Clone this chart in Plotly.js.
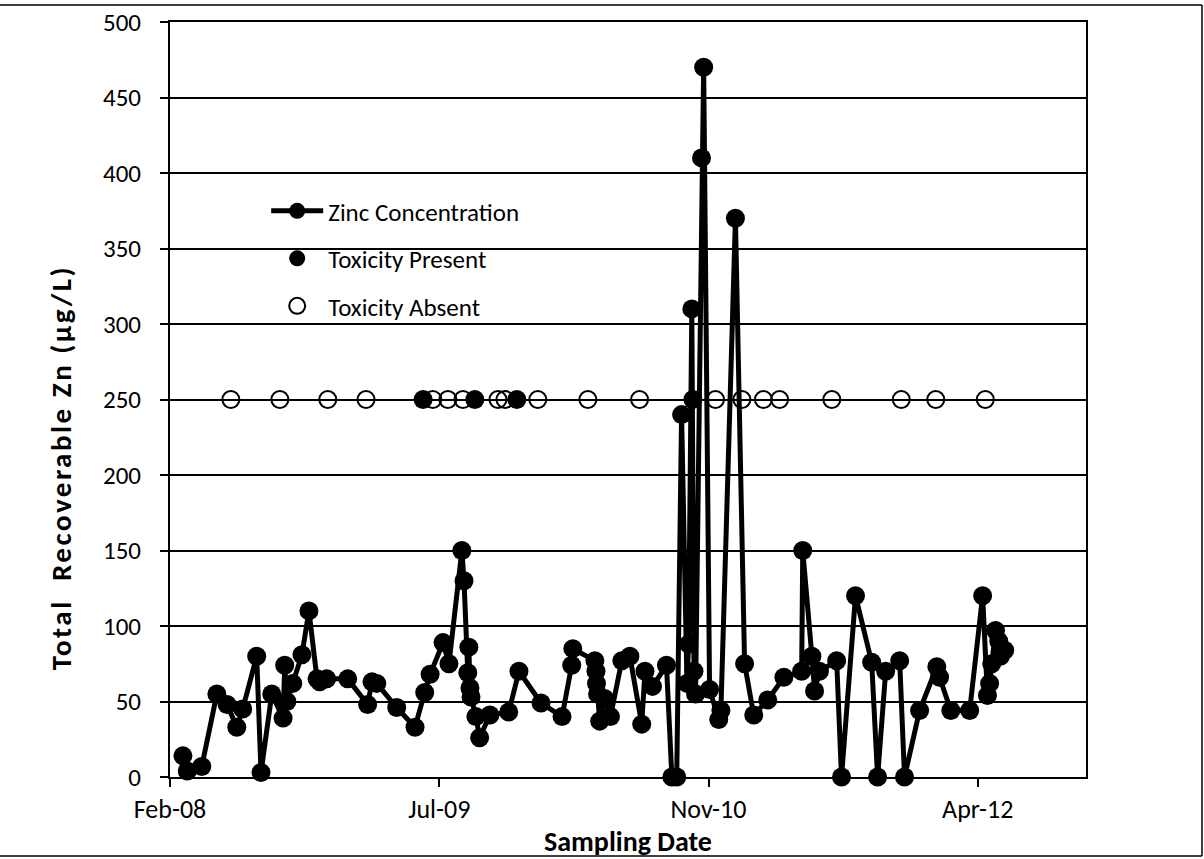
<!DOCTYPE html>
<html>
<head>
<meta charset="utf-8">
<script src="https://cdn.plot.ly/plotly-3.0.1.min.js"></script>
<style>
html,body{margin:0;padding:0;background:#fff;}
#chart{width:1204px;height:859px;}
g.annotation[data-index="0"] text{letter-spacing:2.5px;}
</style>
</head>
<body>
<div id="chart"></div>
<script>
// Zinc concentration series (sampling date, µg/L)
var zincDates = [
 '2008-03-17','2008-03-25','2008-04-21','2008-05-19','2008-06-07','2008-06-25','2008-07-06','2008-08-01','2008-08-09','2008-08-29',
 '2008-09-19','2008-09-22','2008-09-26','2008-10-07','2008-10-24','2008-11-06','2008-11-21','2008-11-26','2008-12-09','2009-01-17',
 '2009-02-23','2009-03-03','2009-03-12','2009-04-18','2009-05-22','2009-06-09','2009-06-19','2009-07-13','2009-07-24','2009-08-17',
 '2009-08-21','2009-08-28','2009-08-30','2009-09-01','2009-09-03','2009-09-12','2009-09-19','2009-10-08','2009-11-12','2009-12-01',
 '2010-01-11','2010-02-19','2010-03-09','2010-03-11','2010-04-21','2010-04-23','2010-04-24','2010-04-26','2010-04-30','2010-05-09',
 '2010-05-20','2010-06-10','2010-06-25','2010-07-17','2010-07-23','2010-08-06','2010-09-01','2010-09-11','2010-09-20','2010-09-29',
 '2010-10-09','2010-10-12','2010-10-18','2010-10-22','2010-10-25','2010-11-05','2010-11-09','2010-11-20','2010-12-07','2010-12-11',
 '2011-01-07','2011-01-24','2011-02-10','2011-03-08','2011-04-07','2011-05-10','2011-05-12','2011-05-29','2011-06-03','2011-06-12',
 '2011-07-14','2011-07-23','2011-08-18','2011-09-17','2011-09-28','2011-10-13','2011-11-08','2011-11-17','2011-12-15','2012-01-16',
 '2012-01-21','2012-02-11','2012-03-17','2012-04-10','2012-04-19','2012-04-23','2012-04-27','2012-05-04','2012-05-10','2012-05-13',
 '2012-05-21'
];
var zincValues = [
 14,4,7,55,48,33,45,80,3,55,
 39,74,50,62,81,110,65,63,65,65,
 48,63,62,46,33,56,68,89,75,150,
 130,69,86,59,53,40,26,41,43,70,
 49,40,74,85,77,70,62,55,37,52,
 40,77,80,35,70,60,74,0,0,240,
 62,88,310,70,55,410,470,58,38,44,
 370,75,41,51,66,70,150,80,57,70,
 77,0,120,76,0,70,77,0,44,73,
 66,44,44,120,54,62,75,97,90,80,
 84
];
// Toxicity test results (plotted at 250 µg/L reference level)
var presentDates = ['2009-06-06','2009-09-10','2009-11-27','2010-10-20'];
var presentValues = [250,250,250,250];
var absentDates = ['2008-06-14','2008-09-13','2008-12-11','2009-02-20','2009-06-24','2009-07-22','2009-08-19','2009-10-23','2009-11-05','2010-01-05',
 '2010-04-08','2010-07-13','2010-12-01','2011-01-19','2011-02-28','2011-03-30','2011-07-05','2011-11-11','2012-01-14','2012-04-15'];
var absentValues = [250,250,250,250,250,250,250,250,250,250,250,250,250,250,250,250,250,250,250,250];
// Axis ticks and titles
var xTickDates = ['2008-02-22','2009-07-06','2010-11-18','2012-04-01'];
var xTickLabels = ['Feb-08','Jul-09','Nov-10','Apr-12'];
var xRange = ['2008-02-22','2012-10-19'];
var yTicks = [0,50,100,150,200,250,300,350,400,450,500];
var xTitle = 'Sampling Date';
var yTitle = 'Total  Recoverable Zn (µg/L)';

var font = 'Carlito, Lato, "Open Sans", sans-serif';
var traces = [
 {x: absentDates, y: absentValues, type:'scatter', mode:'markers', name:'Toxicity Absent',
  marker:{symbol:'circle-open', size:17, color:'#000', line:{width:2}}, legendgroup:'c', legendrank:3, cliponaxis:false},
 {x: zincDates, y: zincValues, type:'scatter', mode:'lines+markers', name:'Zinc Concentration',
  line:{color:'#000', width:5}, marker:{symbol:'circle', size:19, color:'#000'}, legendgroup:'a', legendrank:1, cliponaxis:false},
 {x: presentDates, y: presentValues, type:'scatter', mode:'markers', name:'Toxicity Present',
  marker:{symbol:'circle', size:19, color:'#000'}, legendgroup:'b', legendrank:2, cliponaxis:false}
];
var layout = {
 width:1204, height:859,
 margin:{l:170, r:118, t:22, b:82},
 paper_bgcolor:'#fff', plot_bgcolor:'#fff',
 font:{family:font, color:'#000', size:24},
 showlegend:true,
 legend:{x:0.105, y:0.78, xanchor:'left', yanchor:'top', bgcolor:'rgba(0,0,0,0)',
   font:{family:font, size:25, color:'#000'}, traceorder:'grouped', tracegroupgap:12, itemwidth:52},
 xaxis:{type:'date', range:xRange, tickmode:'array', tickvals:xTickDates, ticktext:xTickLabels,
   ticks:'outside', ticklen:8, tickwidth:1.5, tickcolor:'#000', showgrid:false, zeroline:false,
   showline:true, linecolor:'#000', linewidth:2, mirror:true, ticklabelstandoff:0,
   tickfont:{family:font, size:26, color:'#000'},
   title:{text:'<b>' + xTitle + '</b>', font:{family:font, size:28, color:'#000'}, standoff:10}},
 yaxis:{range:[0,500], tickmode:'array', tickvals:yTicks, ticks:'outside', ticklen:8, tickwidth:1.5, tickcolor:'#000',
   showgrid:true, gridcolor:'#000', gridwidth:1.5, zeroline:false,
   showline:true, linecolor:'#000', linewidth:2, mirror:true, ticklabelstandoff:14,
   tickfont:{family:font, size:25, color:'#000'}},
 annotations:[
  {text:'<b>' + yTitle + '</b>', xref:'paper', yref:'paper', x:-0.118, y:0.41, xanchor:'center', yanchor:'middle',
   textangle:-90, showarrow:false, font:{family:font, size:29, color:'#000'}}
 ],
 shapes:[
  {type:'line', xref:'paper', yref:'paper', x0:-0.2, x1:1.1266, y0:1.0225, y1:1.0225, line:{color:'#000', width:1.5}},
  {type:'line', xref:'paper', yref:'paper', x0:1.1266, x1:1.1266, y0:1.0225, y1:-0.1046, line:{color:'#000', width:1.5}},
  {type:'line', xref:'paper', yref:'paper', x0:-0.2, x1:1.1266, y0:-0.1046, y1:-0.1046, line:{color:'#000', width:1.5}}
 ]
};
Plotly.newPlot('chart', traces, layout, {displayModeBar:false, responsive:false});
</script>
</body>
</html>
